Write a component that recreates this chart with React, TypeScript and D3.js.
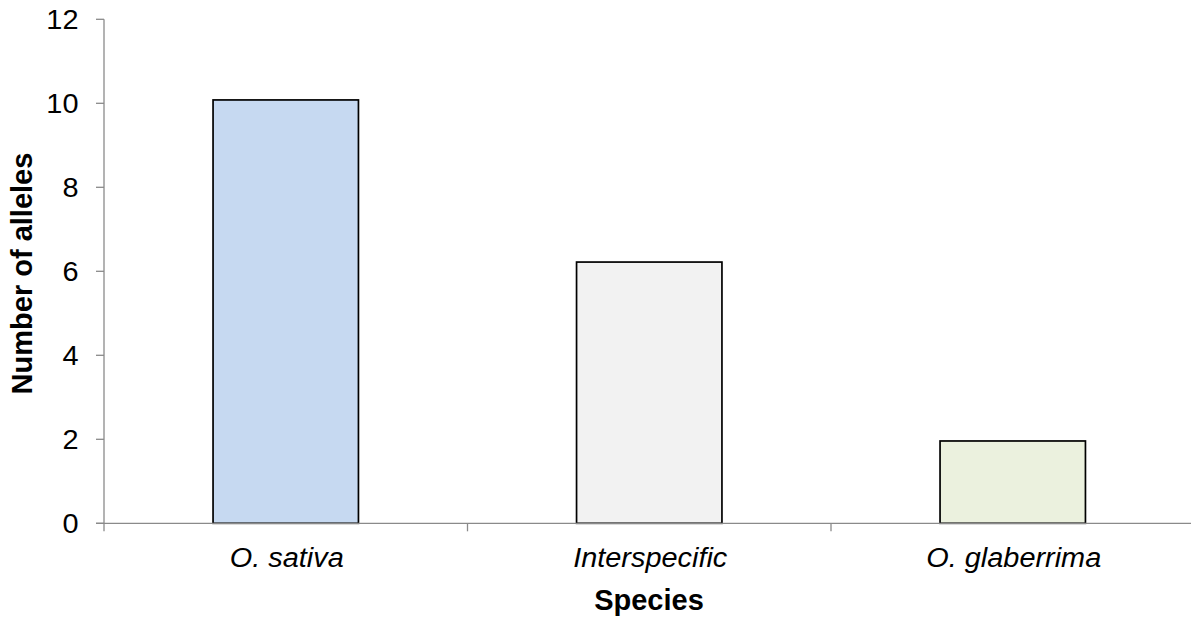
import React from "react";
import * as d3 from "d3";

const categories = ["O. sativa", "Interspecific", "O. glaberrima"];
const alleles = [10.08, 6.22, 1.96];
const fills = ["#C6D9F1", "#F2F2F2", "#EBF1DE"];
const yTicks = [0, 2, 4, 6, 8, 10, 12];

const W = 1191;
const H = 619;
const left = 104;
const bandW = 363.5;
const top = 19.3;
const bottom = 523.3;
const font = "'Liberation Sans', Arial, sans-serif";
const axisColor = "#8a8a8a";
const labelSize = 27;
const labelStretch = 1.07;

export default function App() {
  const x = d3
    .scaleBand<string>()
    .domain(categories)
    .range([left, left + bandW * categories.length])
    .paddingInner(0.6)
    .paddingOuter(0.3);
  const y = d3.scaleLinear().domain([0, 12]).range([bottom, top]);
  const bandEdges = d3.range(categories.length + 1).map((i) => left + i * bandW);

  return (
    <svg
      width={W}
      height={H}
      style={{ position: "absolute", left: 0, top: 0, background: "#fff" }}
    >
      {/* bars */}
      {categories.map((c, i) => (
        <rect
          key={c}
          x={x(c)}
          y={y(alleles[i])}
          width={x.bandwidth()}
          height={y(0) - y(alleles[i])}
          fill={fills[i]}
          stroke="#000"
          strokeWidth={1.7}
        />
      ))}

      {/* y axis */}
      <line x1={left} x2={left} y1={y(12)} y2={y(0)} stroke={axisColor} strokeWidth={1.3} />
      {yTicks.map((t) => (
        <g key={t}>
          <line x1={left - 8} x2={left} y1={y(t)} y2={y(t)} stroke={axisColor} strokeWidth={1.3} />
          <text
            transform={`translate(${left - 25.5}, ${y(t)}) scale(${labelStretch}, 1)`}
            dy="0.35em"
            textAnchor="end"
            fontFamily={font}
            fontSize={labelSize}
            fill="#000"
          >
            {t}
          </text>
        </g>
      ))}

      {/* x axis */}
      <line x1={left - 8} x2={left + bandW * 3} y1={y(0)} y2={y(0)} stroke={axisColor} strokeWidth={1.3} />
      {bandEdges.map((e, i) => (
        <line key={i} x1={e} x2={e} y1={y(0)} y2={y(0) + 8} stroke={axisColor} strokeWidth={1.3} />
      ))}
      {categories.map((c) => (
        <text
          key={c}
          transform={`translate(${(x(c) as number) + x.bandwidth() / 2 + 1}, 566.7) scale(${labelStretch}, 1)`}
          textAnchor="middle"
          fontFamily={font}
          fontSize={labelSize}
          fontStyle="italic"
          fill="#000"
        >
          {c}
        </text>
      ))}

      {/* axis titles */}
      <text
        x={649}
        y={610}
        textAnchor="middle"
        fontFamily={font}
        fontSize={29}
        fontWeight="bold"
        fill="#000"
      >
        Species
      </text>
      <text
        transform="translate(31.5, 273.5) rotate(-90)"
        textAnchor="middle"
        fontFamily={font}
        fontSize={29}
        fontWeight="bold"
        fill="#000"
      >
        Number of alleles
      </text>
    </svg>
  );
}
